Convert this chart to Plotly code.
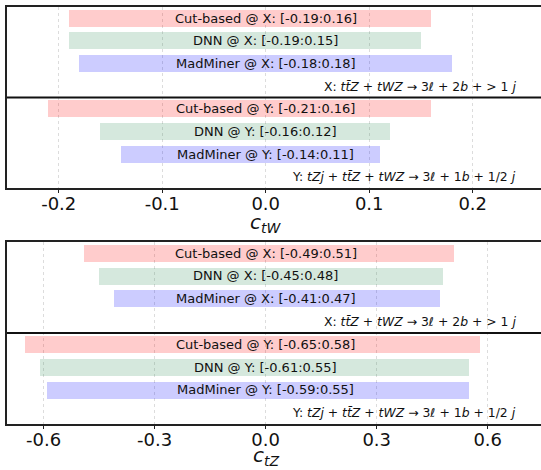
import plotly.graph_objects as go

methods = ["Cut-based", "DNN", "MadMiner"]
colors = ["rgba(255,0,0,0.2)", "rgba(46,139,87,0.2)", "rgba(0,0,255,0.2)"]

ctw_X_lo = [-0.19, -0.19, -0.18]
ctw_X_hi = [0.16, 0.15, 0.18]
ctw_Y_lo = [-0.21, -0.16, -0.14]
ctw_Y_hi = [0.16, 0.12, 0.11]

ctz_X_lo = [-0.49, -0.45, -0.41]
ctz_X_hi = [0.51, 0.48, 0.47]
ctz_Y_lo = [-0.65, -0.61, -0.59]
ctz_Y_hi = [0.58, 0.55, 0.55]

ctw_ticks = [-0.2, -0.1, 0.0, 0.1, 0.2]
ctw_ticktext = ["-0.2", "-0.1", "0.0", "0.1", "0.2"]
ctz_ticks = [-0.6, -0.3, 0.0, 0.3, 0.6]
ctz_ticktext = ["-0.6", "-0.3", "0.0", "0.3", "0.6"]

label_X = "X: <i>tt̄Z</i> + <i>tWZ</i> → 3<i>ℓ</i> + 2<i>b</i> + > 1 <i>j</i>"
label_Y = "Y: <i>tZj</i> + <i>tt̄Z</i> + <i>tWZ</i> → 3<i>ℓ</i> + 1<i>b</i> + 1/2 <i>j</i>"
title_top = "<i>c</i><sub><i>tW</i></sub>"
title_bottom = "<i>c</i><sub><i>tZ</i></sub>"

FONT = "DejaVu Sans"
fig = go.Figure()
annotations = []
shapes = []

panels = [
    ("x", "y", ctw_X_lo, ctw_X_hi, ctw_Y_lo, ctw_Y_hi, title_top, 0.481),
    ("x2", "y2", ctz_X_lo, ctz_X_hi, ctz_Y_lo, ctz_Y_hi, title_bottom, -0.077),
]

for xa, ya, xlo, xhi, ylo, yhi, title, ty in panels:
    for group, lo, hi, offset in (("X", xlo, xhi, 0), ("Y", ylo, yhi, 4)):
        for i, m in enumerate(methods):
            fig.add_trace(go.Bar(
                y=[offset + i], x=[hi[i] - lo[i]], base=[lo[i]],
                orientation="h", width=0.75,
                marker=dict(color=colors[i], line=dict(width=0)),
                xaxis=xa, yaxis=ya, showlegend=False, hoverinfo="skip",
            ))
            annotations.append(dict(
                x=0, y=offset + i, xref=xa, yref=ya,
                text=f"{m} @ {group}: [{lo[i]:.2f}:{hi[i]:.2f}]",
                showarrow=False, xanchor="center", yanchor="middle",
                font=dict(family=FONT, size=13, color="#111"),
            ))
        annotations.append(dict(
            x=0.957, y=offset + 3, xref=f"{xa} domain", yref=ya,
            text=label_X if group == "X" else label_Y,
            showarrow=False, xanchor="right", yanchor="middle",
            font=dict(family=FONT, size=12.4, color="#111"),
        ))
    shapes.append(dict(type="line", xref=f"{xa} domain", yref=ya,
                       x0=0, x1=1, y0=3.5, y1=3.5,
                       line=dict(color="#111", width=2)))
    annotations.append(dict(
        x=0, y=ty, xref=xa, yref="paper", text=title,
        showarrow=False, xanchor="center", yanchor="middle",
        font=dict(family=FONT, size=20, color="#111"),
    ))

axis_common = dict(
    showline=True, linecolor="#222", linewidth=1.6, mirror=True,
    ticks="outside", ticklen=3, tickcolor="#222",
    showgrid=True, gridcolor="#dcdcdc", griddash="dot", gridwidth=1,
    zeroline=False, tickfont=dict(family=FONT, size=18, color="#111"),
    ticklabelstandoff=-4,
)
yaxis_common = dict(
    range=[7.5, -0.5], showticklabels=False, ticks="", showgrid=False,
    zeroline=False, showline=True, linecolor="#222", linewidth=1.6, mirror=False,
)

fig.update_layout(
    width=541, height=470,
    margin=dict(l=7, r=0, t=7, b=46),
    plot_bgcolor="white", paper_bgcolor="white",
    bargap=0, barmode="overlay",
    xaxis=dict(**axis_common, anchor="y", domain=[0, 1],
               range=[-0.25, 0.266], tickvals=ctw_ticks, ticktext=ctw_ticktext),
    yaxis=dict(**yaxis_common, anchor="x", domain=[0.566, 1.0]),
    xaxis2=dict(**axis_common, anchor="y2", domain=[0, 1],
                range=[-0.699, 0.744], tickvals=ctz_ticks, ticktext=ctz_ticktext),
    yaxis2=dict(**yaxis_common, anchor="x2", domain=[0.0, 0.437]),
    annotations=annotations, shapes=shapes,
)

fig.write_html("out.html")
